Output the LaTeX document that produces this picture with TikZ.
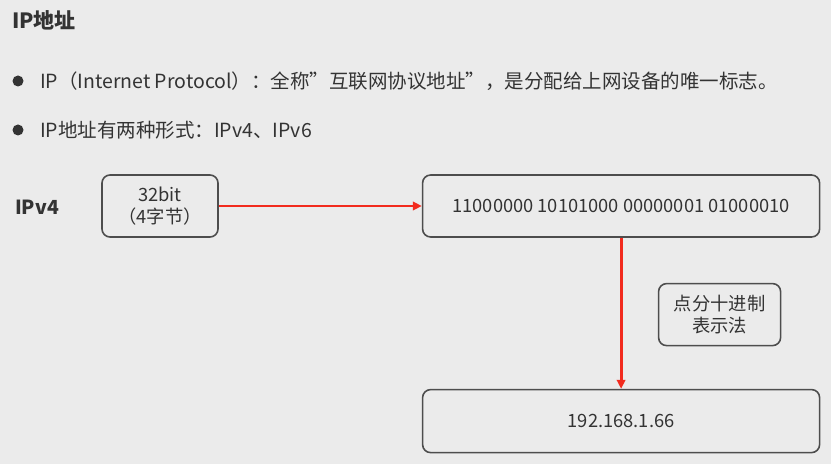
\documentclass[tikz,border=0pt]{standalone}
\usepackage{fontspec}
\setmainfont{Noto Sans CJK SC}
\usepackage{xcolor}
\definecolor{slidebg}{HTML}{EBEBEB}
\definecolor{inkgray}{HTML}{333333}
\definecolor{edgegray}{HTML}{4D4D4D}
\definecolor{arrowred}{HTML}{F22B1E}
\usepackage{tikz}
\usetikzlibrary{arrows.meta, positioning}
\tikzset{
  ipbox/.style={rectangle, rounded corners=8pt, draw=edgegray, line width=1.6pt, fill=slidebg,
                text=inkgray, align=center, inner sep=4pt, minimum height=62pt, font=\fontsize{18.3}{21.5}\selectfont},
  slidetitle/.style={inner sep=0pt, text=inkgray, font=\fontsize{21}{24}\selectfont\bfseries},
  bullettext/.style={inner sep=0pt, text=inkgray, font=\fontsize{19.5}{23}\selectfont},
  rowlabel/.style={inner sep=0pt, text=inkgray, font=\fontsize{19.4}{23}\selectfont\bfseries},
  dotmark/.style={circle, fill=inkgray, inner sep=0pt, minimum size=11pt},
  redarr/.style={-{Triangle[length=9pt, width=8.5pt]}, line width=2.8pt, color=arrowred},
}
\begin{document}
\begin{tikzpicture}[x=1pt, y=1pt, node distance=203pt]
  \fill[slidebg] (0,0) rectangle (831,464);
  \useasboundingbox (0,0) rectangle (831,464);
  \node[slidetitle, anchor=west] (title) at (12,444) {IP地址};
  \node[dotmark] (dot1) at (18,383) {};
  \node[bullettext, anchor=west] (item1) at (40,383) {IP（Internet Protocol）：全称”互联网协议地址”，是分配给上网设备的唯一标志。};
  \node[dotmark] (dot2) at (18,334) {};
  \node[bullettext, anchor=west] (item2) at (40,334) {IP地址有两种形式：IPv4、IPv6};
  \node[rowlabel, anchor=west] (v4) at (15,257) {IPv4};
  \node[ipbox, minimum width=116pt] (bits) at (160,258) {32bit\\（4字节）};
  \node[ipbox, minimum width=397pt, right=of bits] (binary) {11000000 10101000 00000001 01000010};
  \node[ipbox, minimum width=397pt, minimum height=63pt, below=151pt of binary] (dotted) {192.168.1.66};
  \node[ipbox, minimum width=122pt, below left=45pt and 39pt of binary.south east] (method) {点分十进制\\表示法};
  \draw[redarr] (bits) -- (binary);
  \draw[redarr] (binary) -- (dotted);
\end{tikzpicture}
\end{document}
